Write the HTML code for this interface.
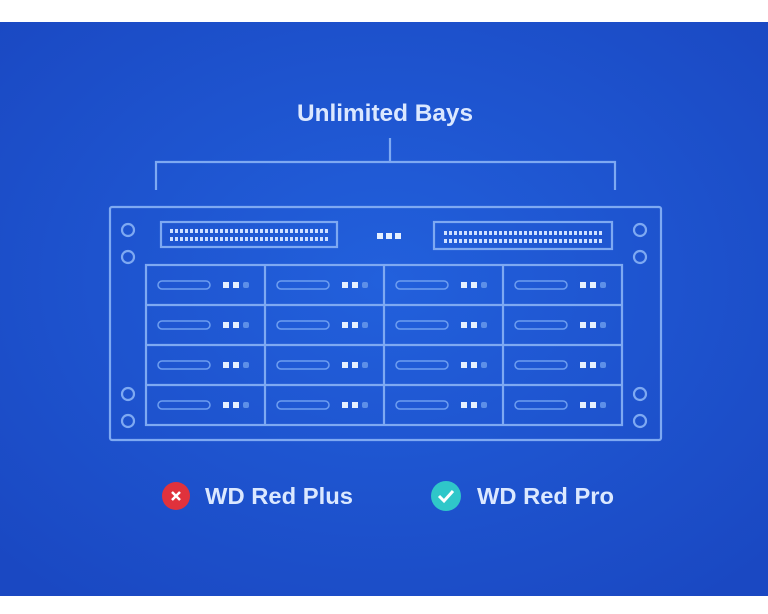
<!DOCTYPE html>
<html><head><meta charset="utf-8"><style>
html,body{margin:0;padding:0;background:#fff;}
svg{display:block;}
</style></head><body>
<svg width="768" height="614" viewBox="0 0 768 614" xmlns="http://www.w3.org/2000/svg">
<defs>
<radialGradient id="bg" cx="50%" cy="45%" r="70%">
<stop offset="0" stop-color="#2260dc"/>
<stop offset="1" stop-color="#1a48c2"/>
</radialGradient>
<g id="bay">
<rect x="12" y="16" width="52" height="8" rx="4" fill="none" stroke="#6e9ef0" stroke-width="1.5"/>
<rect x="77" y="17" width="6" height="6" fill="#e6f0ff"/>
<rect x="87" y="17" width="6" height="6" fill="#e6f0ff"/>
<rect x="97" y="17" width="6" height="6" rx="2" fill="#5d8fe8"/>
</g>
</defs>
<rect x="0" y="0" width="768" height="614" fill="#fff"/>
<rect x="0" y="22" width="768" height="574" fill="url(#bg)"/>
<text x="385" y="121" text-anchor="middle" font-family="Liberation Sans, sans-serif" font-weight="bold" font-size="24" textLength="176" lengthAdjust="spacingAndGlyphs" fill="#dbe8ff">Unlimited Bays</text>
<g fill="none" stroke="#7ea9f2" stroke-width="2.2">
<path d="M390 138 V162 M156 190 V162 H615 V190"/>
<rect x="110" y="207" width="551" height="233" rx="2"/>
<rect x="161" y="222" width="176" height="25"/>
<rect x="434" y="222" width="178" height="27"/>
<rect x="146" y="265" width="476" height="160"/>
<path d="M265 265V425M384 265V425M503 265V425M146 305H622M146 345H622M146 385H622"/>
<circle cx="128" cy="230" r="6"/><circle cx="128" cy="257" r="6"/>
<circle cx="128" cy="394" r="6"/><circle cx="128" cy="421" r="6"/>
<circle cx="640" cy="230" r="6"/><circle cx="640" cy="257" r="6"/>
<circle cx="640" cy="394" r="6"/><circle cx="640" cy="421" r="6"/>
</g>
<g stroke="#cfe0ff" stroke-width="4" stroke-dasharray="3 2" fill="none">
<path d="M170 231 H330 M170 239 H330"/>
<path d="M444 233 H604 M444 241 H604"/>
</g>
<rect x="377" y="233" width="6" height="6" fill="#e6f0ff"/>
<rect x="386" y="233" width="6" height="6" fill="#e6f0ff"/>
<rect x="395" y="233" width="6" height="6" fill="#e6f0ff"/>
<use href="#bay" x="146" y="265"/><use href="#bay" x="265" y="265"/><use href="#bay" x="384" y="265"/><use href="#bay" x="503" y="265"/>
<use href="#bay" x="146" y="305"/><use href="#bay" x="265" y="305"/><use href="#bay" x="384" y="305"/><use href="#bay" x="503" y="305"/>
<use href="#bay" x="146" y="345"/><use href="#bay" x="265" y="345"/><use href="#bay" x="384" y="345"/><use href="#bay" x="503" y="345"/>
<use href="#bay" x="146" y="385"/><use href="#bay" x="265" y="385"/><use href="#bay" x="384" y="385"/><use href="#bay" x="503" y="385"/>
<circle cx="176" cy="496" r="14" fill="#e0323c"/>
<path d="M172 492 L180 500 M180 492 L172 500" stroke="#fff" stroke-width="2.5"/>
<text x="205" y="504" font-family="Liberation Sans, sans-serif" font-weight="bold" font-size="23" textLength="148" lengthAdjust="spacingAndGlyphs" fill="#dbe8ff">WD Red Plus</text>
<circle cx="446" cy="496" r="15" fill="#2fc7c9"/>
<path d="M439 496 L444 501 L453 491" stroke="#fff" stroke-width="3" fill="none"/>
<text x="477" y="504" font-family="Liberation Sans, sans-serif" font-weight="bold" font-size="23" textLength="137" lengthAdjust="spacingAndGlyphs" fill="#dbe8ff">WD Red Pro</text>
</svg>
</body></html>
